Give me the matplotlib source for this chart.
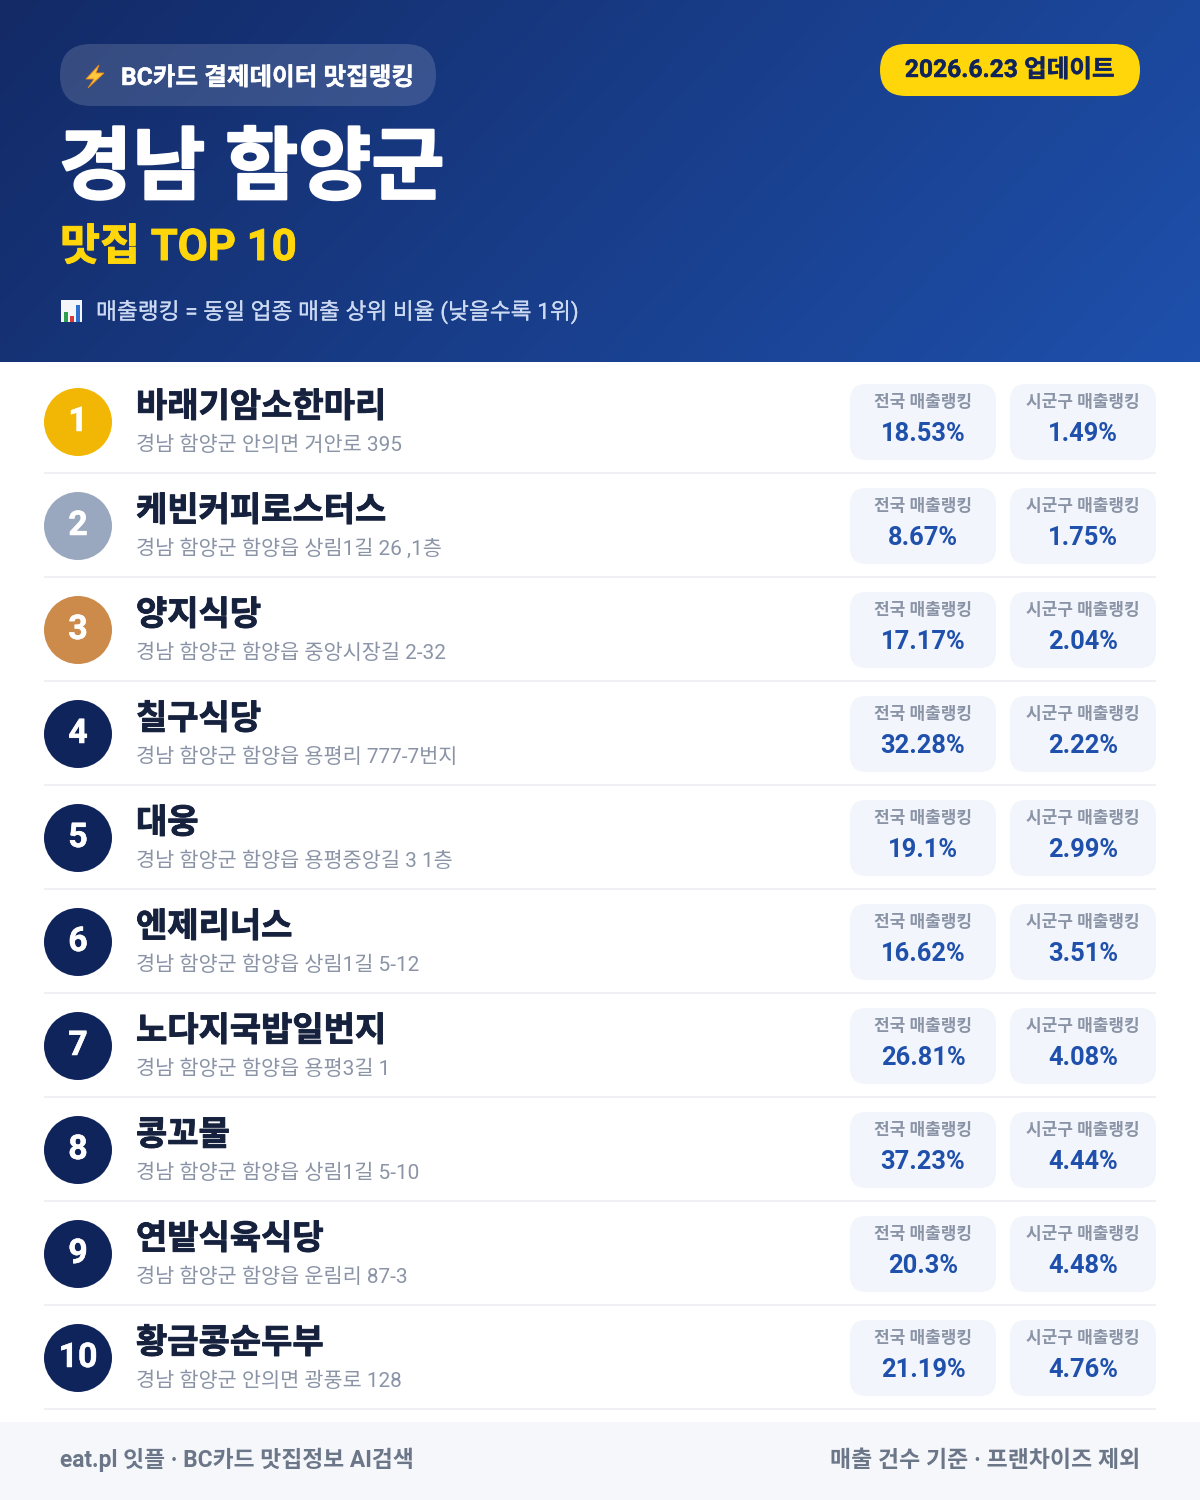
import numpy as np
import matplotlib
matplotlib.use("Agg")
import matplotlib.pyplot as plt
import matplotlib.patheffects as pe
from matplotlib.patches import FancyBboxPatch, Circle, Rectangle, Polygon

ranks = list(range(1, 11))
names = ["바래기암소한마리", "케빈커피로스터스", "양지식당", "칠구식당", "대웅", "엔제리너스", "노다지국밥일번지", "콩꼬물", "연밭식육식당", "황금콩순두부"]
addresses = ["경남 함양군 안의면 거안로 395", "경남 함양군 함양읍 상림1길 26 ,1층", "경남 함양군 함양읍 중앙시장길 2-32",
             "경남 함양군 함양읍 용평리 777-7번지", "경남 함양군 함양읍 용평중앙길 3 1층", "경남 함양군 함양읍 상림1길 5-12",
             "경남 함양군 함양읍 용평3길 1", "경남 함양군 함양읍 상림1길 5-10", "경남 함양군 함양읍 운림리 87-3", "경남 함양군 안의면 광풍로 128"]
national = ["18.53%", "8.67%", "17.17%", "32.28%", "19.1%", "16.62%", "26.81%", "37.23%", "20.3%", "21.19%"]
local = ["1.49%", "1.75%", "2.04%", "2.22%", "2.99%", "3.51%", "4.08%", "4.44%", "4.48%", "4.76%"]
badge_colors = ["#F2B705", "#9AA8BF", "#CC8B4A"] + ["#10245C"] * 7

FONT = ["Roboto", "Noto Sans CJK KR", "DejaVu Sans"]
plt.rcParams["font.family"] = FONT
px = 0.72

fig = plt.figure(figsize=(12, 15), dpi=100, facecolor="white")
ax = fig.add_axes([0, 0, 1, 1])
ax.set_xlim(0, 1200); ax.set_ylim(1500, 0); ax.axis("off")

# header gradient
h, w = 362, 1200
yy, xx = np.mgrid[0:h, 0:w]
t = (xx / w * 0.78 + yy / h * 0.22)[..., None]
c0 = np.array([0x13, 0x2A, 0x66]) / 255
c1 = np.array([0x1E, 0x50, 0xAC]) / 255
ax.imshow(c0 + (c1 - c0) * t, extent=(0, 1200, 362, 0), aspect="auto", zorder=0)
ax.set_xlim(0, 1200); ax.set_ylim(1500, 0)

def pill(x0, y0, x1, y1, r, color, z=1, alpha=None):
    ax.add_patch(FancyBboxPatch((x0 + r, y0 + r), x1 - x0 - 2 * r, y1 - y0 - 2 * r,
                                boxstyle=f"round,pad={r},rounding_size={r}", fc=color, ec="none", alpha=alpha, zorder=z))

def T(x, y, s, size, color, weight="bold", ha="left", stroke=0):
    txt = ax.text(x, y, s, fontsize=size * px, color=color, fontweight=weight, ha=ha, va="baseline", zorder=5)
    if stroke:
        txt.set_path_effects([pe.withStroke(linewidth=stroke * px, foreground=color)])
    return txt

pill(60, 44, 436, 106, 31, "#FFFFFF", alpha=0.15)
ax.add_patch(Polygon([(99, 65), (86, 79), (94, 79), (88, 88), (104, 73), (96, 73)], fc="#FFC83D", ec="#F08A1D", lw=0.6, zorder=5))
T(121, 85, "BC카드 결제데이터 맛집랭킹", 24.6, "white", stroke=0.4)
pill(880, 44, 1140, 96, 26, "#FFD60A")
T(1010, 77, "2026.6.23 업데이트", 24.6, "#10245C", ha="center", stroke=0.4)
T(59, 193, "경남 함양군", 79.5, "white", "bold", stroke=2.2)
T(60, 260, "맛집 TOP 10", 43.5, "#FFD60A", "bold", stroke=1.0)
# chart icon
ax.add_patch(Rectangle((61, 300), 21, 22, fc="#F4F6FA", ec="none", zorder=5))
for bx, bt, bc in [(64, 312, "#2E9E4F"), (70, 316, "#D93A3A"), (76, 305, "#2F6FD0")]:
    ax.add_patch(Rectangle((bx, bt), 4, 322 - bt, fc=bc, ec="none", zorder=6))
T(96, 319, "매출랭킹 = 동일 업종 매출 상위 비율 (낮을수록 1위)", 22.7, "#CBD9F2", "normal", stroke=0.2)

for i in range(10):
    dy = 104 * i
    ax.add_patch(Circle((78, 422 + dy), 34, fc=badge_colors[i], ec="none", zorder=2))
    T(78, 431 + dy, str(ranks[i]), 34, "white", "bold", ha="center", stroke=0.5)
    T(136, 417 + dy, names[i], 34, "#16213E", "bold", stroke=0.9)
    T(136, 451 + dy, addresses[i], 20.8, "#8A94A6", "normal")
    ax.add_patch(Rectangle((44, 472 + dy), 1112, 2, fc="#EEF0F3", ec="none", zorder=1))
    for x0, lab, val in [(850, "전국 매출랭킹", national[i]), (1010, "시군구 매출랭킹", local[i])]:
        pill(x0, 384 + dy, x0 + 146, 460 + dy, 16, "#F2F5FC")
        T(x0 + 73, 407 + dy, lab, 17, "#8A94A6", "bold", ha="center")
        T(x0 + 73, 441 + dy, val, 25.5, "#1E50AC", "bold", ha="center")

ax.add_patch(Rectangle((0, 1422), 1200, 78, fc="#F5F7FB", ec="none", zorder=1))
T(60, 1467, "eat.pl 잇플 · BC카드 맛집정보 AI검색", 22.8, "#6B7688", "bold")
T(1140, 1467, "매출 건수 기준 · 프랜차이즈 제외", 22.9, "#6B7688", "bold", ha="right")

fig.savefig("out.png", dpi=100)
